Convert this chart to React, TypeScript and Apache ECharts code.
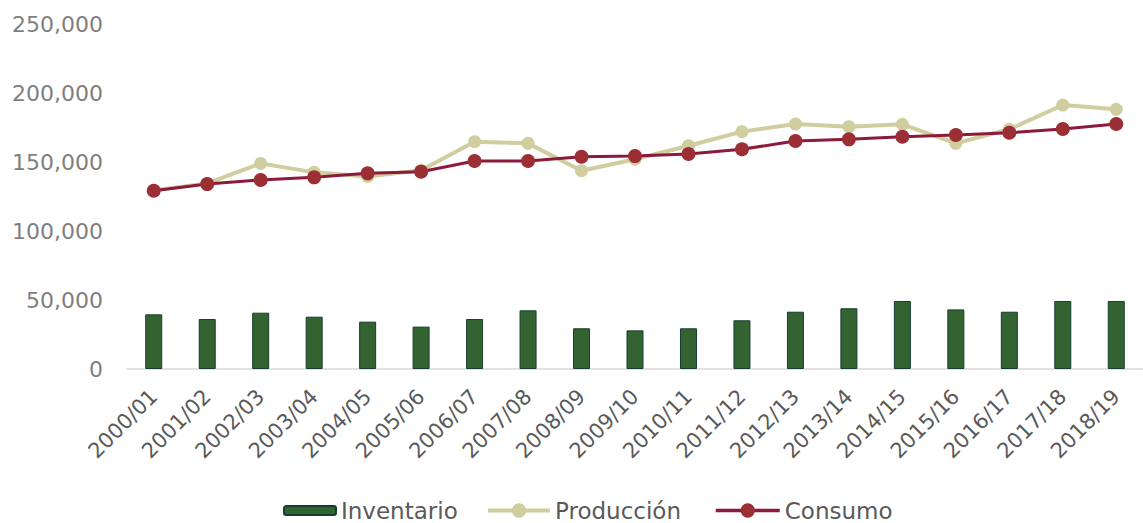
import React, { useEffect, useRef } from "react";
import * as echarts from "echarts";

const categories = [
  "2000/01", "2001/02", "2002/03", "2003/04", "2004/05", "2005/06", "2006/07",
  "2007/08", "2008/09", "2009/10", "2010/11", "2011/12", "2012/13", "2013/14",
  "2014/15", "2015/16", "2016/17", "2017/18", "2018/19",
];

const inventario = [
  39600, 36200, 40800, 37900, 34300, 30700, 36200, 42500, 29500, 28000,
  29500, 35300, 41500, 44000, 49300, 43200, 41500, 49300, 49300,
];

const produccion = [
  129500, 134500, 149000, 142500, 139500, 144000, 164700, 163500, 143700, 152000,
  161800, 172000, 177500, 175600, 177300, 163500, 173700, 191300, 188200,
];

const consumo = [
  129200, 134000, 137000, 138900, 141800, 143000, 150700, 150700, 153800, 154300,
  155800, 159200, 165200, 166400, 168300, 169600, 171200, 173900, 177500,
];

const yTicks = { min: 0, max: 250000, interval: 50000 };

const FONT = "DejaVu Sans";
const legendText = { fontFamily: FONT, fontSize: 23, color: "#595959" };

export default function App() {
  const ref = useRef<HTMLDivElement>(null);
  useEffect(() => {
    if (!ref.current) return;
    const chart = echarts.init(ref.current, undefined, { renderer: "svg" });
    chart.setOption({
      animation: false,
      backgroundColor: "#ffffff",
      textStyle: { fontFamily: FONT },
      grid: { left: 127, right: -10, top: 24, bottom: 154, containLabel: false },
      legend: [
        {
          data: ["Inventario"],
          left: 283,
          top: 499,
          padding: 0,
          itemWidth: 52,
          itemHeight: 9,
          textStyle: legendText,
        },
        {
          data: ["Producción"],
          left: 486,
          top: 499,
          padding: 0,
          itemWidth: 62,
          itemHeight: 18,
          lineStyle: { width: 4 },
          textStyle: legendText,
        },
        {
          data: ["Consumo"],
          left: 714,
          top: 499,
          padding: 0,
          itemWidth: 64,
          itemHeight: 18,
          lineStyle: { width: 3.5 },
          textStyle: legendText,
        },
      ],
      xAxis: {
        type: "category",
        data: categories,
        axisLine: { lineStyle: { color: "#d9d9d9", width: 1.5 } },
        axisTick: { show: false },
        axisLabel: {
          interval: 0,
          rotate: 45,
          margin: 24,
          fontFamily: FONT,
          fontSize: 21,
          color: "#595959",
        },
      },
      yAxis: {
        type: "value",
        min: yTicks.min,
        max: yTicks.max,
        interval: yTicks.interval,
        splitLine: { show: false },
        axisLine: { show: false },
        axisTick: { show: false },
        axisLabel: {
          margin: 24,
          fontFamily: FONT,
          fontSize: 22,
          color: "#7f7f7f",
          formatter: (v: number) => v.toLocaleString("en-US"),
        },
      },
      series: [
        {
          name: "Inventario",
          type: "bar",
          data: inventario,
          barWidth: 17,
          itemStyle: { color: "#346332", borderColor: "#163d2d", borderWidth: 1 },
        },
        {
          name: "Producción",
          type: "line",
          data: produccion,
          symbol: "circle",
          symbolSize: 13,
          lineStyle: { color: "#d0cd9e", width: 4 },
          itemStyle: { color: "#d0cd9e" },
        },
        {
          name: "Consumo",
          type: "line",
          data: consumo,
          symbol: "circle",
          symbolSize: 14,
          lineStyle: { color: "#8c1a3a", width: 3 },
          itemStyle: { color: "#9c2f35" },
        },
      ],
    });
    return () => chart.dispose();
  }, []);
  return <div ref={ref} style={{ width: 1143, height: 523, position: "absolute", left: 0, top: 0 }} />;
}
